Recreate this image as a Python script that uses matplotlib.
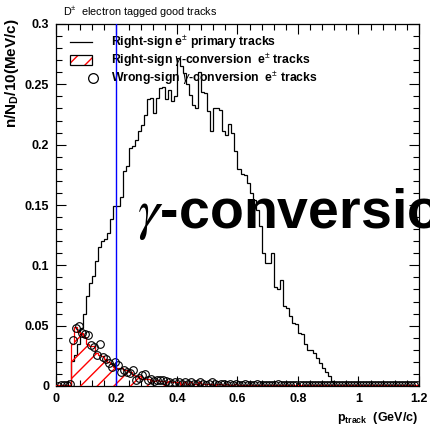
import numpy as np
import matplotlib
matplotlib.use("Agg")
import matplotlib.pyplot as plt
from matplotlib.lines import Line2D
from matplotlib.patches import Rectangle
from matplotlib.ticker import MultipleLocator

plt.rcParams['font.family'] = ['Liberation Sans', 'DejaVu Sans']
plt.rcParams['mathtext.fontset'] = 'custom'
plt.rcParams['mathtext.rm'] = 'Liberation Sans'
plt.rcParams['mathtext.bf'] = 'Liberation Sans:bold'
plt.rcParams['mathtext.it'] = 'Liberation Sans:italic'
plt.rcParams['mathtext.sf'] = 'Liberation Sans'
plt.rcParams['hatch.linewidth'] = 1.0

# 10 MeV/c bins from 0 to 1.2 GeV/c
bin_edges = np.round(np.arange(0, 121) * 0.01, 4)

# Right-sign e+- primary tracks (normalised per D)
primary = [
    0, 0, 0, 0, 0, 0.021, 0.026, 0.035, 0.048, 0.060,
    0.075, 0.085, 0.091, 0.104, 0.115, 0.120, 0.122, 0.127, 0.138, 0.149,
    0.149, 0.157, 0.178, 0.182, 0.197, 0.199, 0.204, 0.211, 0.216, 0.225,
    0.238, 0.239, 0.226, 0.239, 0.247, 0.248, 0.238, 0.245, 0.236, 0.240,
    0.272, 0.265, 0.259, 0.250, 0.241, 0.233, 0.230, 0.260, 0.244, 0.243,
    0.228, 0.211, 0.230, 0.230, 0.229, 0.211, 0.208, 0.217, 0.210, 0.195,
    0.180, 0.176, 0.175, 0.168, 0.160, 0.154, 0.146, 0.133, 0.110, 0.102,
    0.102, 0.110, 0.082, 0.080, 0.088, 0.066, 0.065, 0.058, 0.052, 0.051,
    0.044, 0.043, 0.035, 0.030, 0.030, 0.027, 0.023, 0.019, 0.015, 0.012,
    0.008, 0.004, 0, 0, 0, 0, 0, 0, 0, 0,
    0, 0, 0, 0, 0, 0, 0, 0, 0, 0,
    0, 0, 0, 0, 0, 0, 0, 0, 0, 0,
]

# Right-sign gamma-conversion e+- tracks
right_conv = [
    0.0005, 0.0005, 0.0005, 0.0005, 0.001, 0.035, 0.049, 0.045, 0.044, 0.041,
    0.035, 0.033, 0.033, 0.027, 0.026, 0.025, 0.022, 0.020, 0.018, 0.016,
    0.015, 0.015, 0.013, 0.013, 0.012, 0.009, 0.008, 0.008, 0.006, 0.006,
    0.006, 0.005, 0.004, 0.005, 0.004, 0.004, 0.003, 0.004, 0.003, 0.003,
    0.003, 0.002, 0.003, 0.002, 0.003, 0.002, 0.002, 0.003, 0.002, 0.002,
    0.002, 0.002, 0.001, 0.002, 0.002, 0.001, 0.002, 0.001, 0.001, 0.002,
    0.001, 0.001, 0.001, 0.001, 0.001, 0.001, 0.001, 0.001, 0.001, 0.001,
    0.001, 0.001, 0.001, 0.001, 0.001, 0.001, 0.001, 0.001, 0.001, 0.001,
    0.001, 0.001, 0.001, 0.0005, 0.001, 0.0005, 0.001, 0.0005, 0.0005, 0.0005,
    0.0005, 0.0005, 0.0005, 0.0005, 0.0005, 0.0005, 0.0005, 0.0005, 0.0005, 0.0005,
    0.0005, 0.0005, 0.0005, 0.0005, 0.0005, 0.0005, 0.0005, 0.0005, 0.0005, 0.0005,
    0.0005, 0.0005, 0.0005, 0.0005, 0.0005, 0.0005, 0.0005, 0.0005, 0.0005, 0.0005,
]

# Wrong-sign gamma-conversion e+- tracks
wrong_conv = [
    0.0, 0.0005, 0.0005, 0.0005, 0.002, 0.038, 0.048, 0.050, 0.044, 0.043,
    0.042, 0.034, 0.032, 0.026, 0.035, 0.024, 0.022, 0.019, 0.016, 0.020,
    0.017, 0.012, 0.013, 0.012, 0.011, 0.013, 0.005, 0.007, 0.009, 0.010,
    0.005, 0.006, 0.004, 0.005, 0.005, 0.005, 0.004, 0.003, 0.002, 0.003,
    0.003, 0.002, 0.003, 0.002, 0.003, 0.002, 0.002, 0.003, 0.002, 0.001,
    0.002, 0.003, 0.002, 0.001, 0.002, 0.002, 0.001, 0.002, 0.001, 0.002,
    0.001, 0.001, 0.002, 0.001, 0.001, 0.001, 0.002, 0.001, 0.001, 0.001,
    0.001, 0.001, 0.001, 0.002, 0.001, 0.001, 0.001, 0.001, 0.001, 0.001,
    0.001, 0.001, 0.001, 0.001, 0.001, 0.001, 0.001, 0.001, 0.001, 0.001,
    0.001, 0.001, 0.001, 0.001, 0.001, 0.001, 0.001, 0.001, 0.001, 0.001,
    0.001, 0.001, 0.001, 0.001, 0.001, 0.001, 0.001, 0.001, 0.001, 0.001,
    0.001, 0.001, 0.001, 0.001, 0.001, 0.001, 0.001, 0.001, 0.001, 0.001,
]

cut_value = 0.2
x_ticks = [0, 0.2, 0.4, 0.6, 0.8, 1.0, 1.2]
x_tick_labels = ['0', '0.2', '0.4', '0.6', '0.8', '1', '1.2']
y_ticks = [0, 0.05, 0.1, 0.15, 0.2, 0.25, 0.3]
y_tick_labels = ['0', '0.05', '0.1', '0.15', '0.2', '0.25', '0.3']

W, H = 431, 428
fig = plt.figure(figsize=(W / 100, H / 100), dpi=100)
ax = fig.add_axes([56 / W, 1 - 386 / H, (419 - 56) / W, (386 - 24) / H])

centers = 0.5 * (bin_edges[:-1] + bin_edges[1:])

ax.stairs(primary, bin_edges, color='black', linewidth=0.9, zorder=2)
ax.stairs(right_conv, bin_edges, fill=True, facecolor='none', edgecolor='red',
          hatch='//', linewidth=0.9, baseline=0, zorder=3)
ax.plot(centers, wrong_conv, linestyle='none', marker='o', markersize=5.5,
        markerfacecolor='none', markeredgecolor='black', markeredgewidth=0.8,
        zorder=4)
ax.axvline(cut_value, color='blue', linewidth=1.0, zorder=5)

ax.set_xlim(0, 1.2)
ax.set_ylim(0, 0.3)
ax.set_xticks(x_ticks)
ax.set_xticklabels(x_tick_labels)
ax.set_yticks(y_ticks)
ax.set_yticklabels(y_tick_labels)
ax.xaxis.set_minor_locator(MultipleLocator(0.04))
ax.yaxis.set_minor_locator(MultipleLocator(0.01))
ax.tick_params(which='both', direction='in', top=True, right=True,
               labelsize=9, width=0.8)
ax.tick_params(which='major', length=7)
ax.tick_params(which='minor', length=4)
ax.tick_params(axis='y', pad=5)
ax.tick_params(axis='x', pad=5)
for lab in ax.get_xticklabels() + ax.get_yticklabels():
    lab.set_fontweight('bold')
for sp in ax.spines.values():
    sp.set_linewidth(0.9)

# Legend drawn in axes coordinates
def ax_xy(px, py):
    return (px - 56) / (419 - 56), (386 - py) / (386 - 24)

leg_font = dict(fontsize=8.8, fontweight='bold', va='center', ha='left')
x0, y0 = ax_xy(70, 42)
x1, _ = ax_xy(92, 42)
ax.add_line(Line2D([x0, x1], [y0, y0], color='black', linewidth=0.9,
                   transform=ax.transAxes))
tx, _ = ax_xy(111, 0)
ax.text(tx, y0, r'Right-sign e$^{\pm}$ primary tracks', transform=ax.transAxes, **leg_font)

bx0, by0 = ax_xy(70, 65)
bx1, by1 = ax_xy(92, 55)
ax.add_patch(Rectangle((bx0, by0), bx1 - bx0, by1 - by0, transform=ax.transAxes,
                       facecolor='none', edgecolor='red', hatch='//', linewidth=0))
ax.add_patch(Rectangle((bx0, by0), bx1 - bx0, by1 - by0, transform=ax.transAxes,
                       facecolor='none', edgecolor='black', linewidth=0.9))
_, ty = ax_xy(0, 60)
ax.text(tx, ty, r'Right-sign $\gamma$-conversion  e$^{\pm}$ tracks',
        transform=ax.transAxes, **leg_font)

cx, cy = ax_xy(93, 78)
ax.plot([cx], [cy], marker='o', markersize=7, markerfacecolor='none',
        markeredgecolor='black', markeredgewidth=0.9, transform=ax.transAxes,
        clip_on=False)
ax.text(tx, cy, r'Wrong-sign $\gamma$-conversion  e$^{\pm}$ tracks',
        transform=ax.transAxes, **leg_font)

# Large annotation across the plot
ax.text(0.268, 0.131, r'$\gamma$-conversion', fontsize=40, fontweight='bold',
        math_fontfamily='stix', ha='left', va='baseline', clip_on=False,
        zorder=6)

fig.text(63 / W, 1 - 12 / H, r'D$^{\pm}$  electron tagged good tracks',
         fontsize=7.8, va='center', ha='left')
fig.text(12 / W, 1 - 18 / H, r'n/N$_{\mathbf{D}}$/10(MeV/c)', fontsize=11,
         fontweight='bold', rotation=90, ha='center', va='top')
fig.text(418 / W, 1 - 418 / H, r'p$_{\mathbf{track}}$  (GeV/c)', fontsize=9,
         fontweight='bold', ha='right', va='center')

fig.savefig('out.png', dpi=100)
